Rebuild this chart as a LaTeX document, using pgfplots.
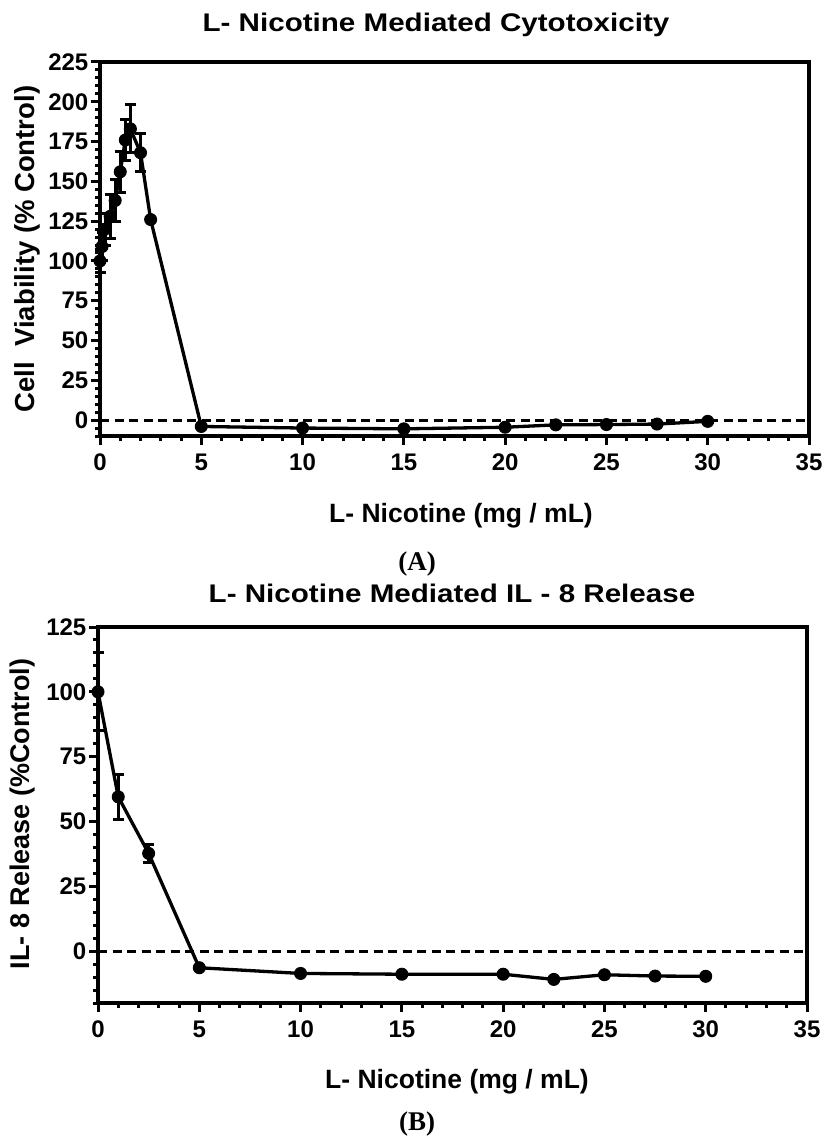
\documentclass[border=0pt]{standalone}
\usepackage{pgfplots}
\pgfplotsset{compat=1.18}
\usepackage{fontspec}
\setmainfont{Liberation Sans}
\newfontfamily\titlefont[FakeStretch=1.16]{Liberation Sans}
\newfontfamily\timesfont{Liberation Serif}

\pgfplotstableread{
x y
0 100
0.1 109
0.25 120
0.5 128
0.75 138
1 156
1.25 176
1.5 183
2 168
2.5 126
5 -4
10 -5
15 -5.5
20 -4.5
22.5 -3
25 -2.8
27.5 -2.5
30 -0.8
}\viab
\pgfplotstableread{
x y e
0 100 7
0.1 109 9
0.25 120 10
0.5 128 14
0.75 138 13
1 156 13
1.25 176 13
1.5 183 15
2 168 12
}\viaberr
\pgfplotstableread{
x y
0 100
1 59.5
2.5 37.7
5 -6.4
10 -8.6
15 -8.9
20 -8.9
22.5 -10.9
25 -9.1
27.5 -9.6
30 -9.7
}\ilr
\pgfplotstableread{
x y e
0 100 15
1 59.5 8.8
2.5 37.7 3.5
}\ilrerr

\pgfplotsset{
 myaxis/.style={
  scale only axis,
  width=709pt,
  xmin=0,xmax=35,
  xtick={0,5,...,35},
  minor x tick num=4,
  minor y tick num=4,
  tick pos=left,
  tick align=outside,
  major tick length=8.5pt,
  minor tick length=5pt,
  every major tick/.style={line width=3pt, black},
  every minor tick/.style={line width=3pt, black},
  axis line style={line width=3.6pt, black},
  tick label style={font=\fontsize{24}{28}\selectfont\bfseries, inner sep=2pt},
  xticklabel style={yshift=-7pt},
  yticklabel style={xshift=-1pt},
  /pgf/number format/assume math mode=true,
  clip=false,
 },
 errstyle/.style={only marks, mark=none, forget plot,
   error bars/.cd, y dir=both, y explicit,
   error bar style={line width=3pt, black, solid},
   error mark=|,
   error mark options={mark size=5.5pt, line width=3pt, black}},
 datastyle/.style={black, line width=3.3pt, mark=*, mark size=6pt,
   mark options={solid, fill=black, line width=1pt}},
 zerostyle/.style={black, line width=3pt, dash pattern=on 9pt off 5.5pt, forget plot},
}

\begin{document}
\begin{tikzpicture}
\path[use as bounding box] (0pt,0pt) rectangle (824pt,-1139pt);

% ---------- Panel A ----------
\begin{axis}[myaxis, at={(100pt,-436pt)}, anchor=south west,
  height=374pt, ymin=-10, ymax=225, ytick={-25,0,25,...,225}]
\addplot[zerostyle] coordinates {(0,0) (35,0)};
\addplot[errstyle] table[x=x,y=y,y error=e] {\viaberr};
\addplot[datastyle] table[x=x,y=y] {\viab};
\end{axis}

% ---------- Panel B ----------
\begin{axis}[myaxis, at={(98pt,-1003pt)}, anchor=south west,
  height=376pt, ymin=-20, ymax=125, ytick={-25,0,25,...,125}]
\addplot[zerostyle] coordinates {(0,0) (35,0)};
\addplot[errstyle] table[x=x,y=y,y error=e] {\ilrerr};
\addplot[datastyle] table[x=x,y=y] {\ilr};
\end{axis}

% ---------- Texts ----------
\node[anchor=base, font=\titlefont\fontsize{25.5}{30}\selectfont\bfseries] at (436pt,-32pt) {L- Nicotine Mediated Cytotoxicity};
\node[anchor=base, font=\fontsize{26.5}{31}\selectfont\bfseries] at (461pt,-522pt) {L- Nicotine (mg / mL)};
\node[rotate=90, anchor=center, font=\fontsize{27.5}{32}\selectfont\bfseries] at (27pt,-249pt) {Cell\ \ Viability (\% Control)};
\node[anchor=base, font=\timesfont\fontsize{27}{32}\selectfont\bfseries] at (417pt,-570pt) {(A)};

\node[anchor=base, font=\titlefont\fontsize{25.5}{30}\selectfont\bfseries] at (452pt,-602pt) {L- Nicotine Mediated IL - 8 Release};
\node[anchor=base, font=\fontsize{26.5}{31}\selectfont\bfseries] at (457pt,-1088pt) {L- Nicotine (mg / mL)};
\node[rotate=90, anchor=center, font=\fontsize{27}{32}\selectfont\bfseries] at (23pt,-814pt) {IL- 8 Release (\%Control)};
\node[anchor=base, font=\timesfont\fontsize{27}{32}\selectfont\bfseries] at (417pt,-1130pt) {(B)};
\end{tikzpicture}
\end{document}
